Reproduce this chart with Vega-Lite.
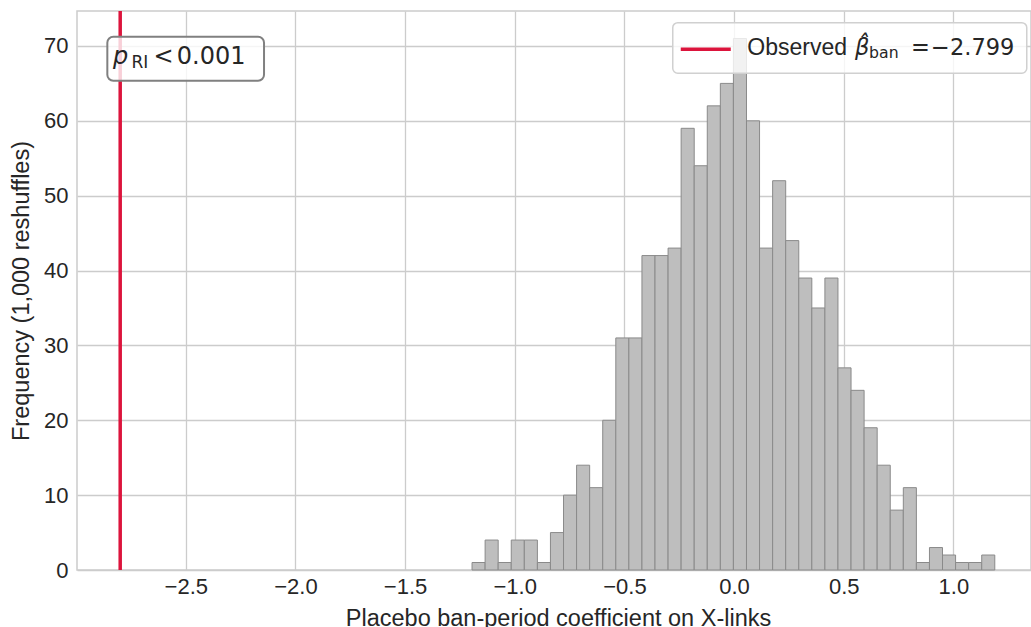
{
  "$schema": "https://vega.github.io/schema/vega-lite/v6.json",
  "autosize": {"type": "none"},
  "padding": {"left": 77, "top": 11, "right": 0, "bottom": 57},
  "width": 954,
  "height": 559,
  "background": "white",
  "config": {
    "view": {"stroke": "#cccccc", "strokeWidth": 1.5},
    "axis": {
      "domain": false,
      "ticks": false,
      "tickSize": 0,
      "grid": true,
      "gridColor": "#cccccc",
      "gridWidth": 1.3,
      "labelFont": "Liberation Sans",
      "labelFontSize": 22,
      "labelColor": "#262626",
      "titleFont": "Liberation Sans",
      "titleFontSize": 23.5,
      "titleFontWeight": "normal",
      "titleColor": "#262626"
    }
  },
  "layer": [
    {
      "data": {"values": [
        {"lo": -1.1947, "hi": -1.1351, "count": 1},
        {"lo": -1.1351, "hi": -1.0755, "count": 4},
        {"lo": -1.0755, "hi": -1.0159, "count": 1},
        {"lo": -1.0159, "hi": -0.9563, "count": 4},
        {"lo": -0.9563, "hi": -0.8967, "count": 4},
        {"lo": -0.8967, "hi": -0.8372, "count": 1},
        {"lo": -0.8372, "hi": -0.7776, "count": 5},
        {"lo": -0.7776, "hi": -0.7180, "count": 10},
        {"lo": -0.7180, "hi": -0.6584, "count": 14},
        {"lo": -0.6584, "hi": -0.5988, "count": 11},
        {"lo": -0.5988, "hi": -0.5392, "count": 20},
        {"lo": -0.5392, "hi": -0.4796, "count": 31},
        {"lo": -0.4796, "hi": -0.4200, "count": 31},
        {"lo": -0.4200, "hi": -0.3604, "count": 42},
        {"lo": -0.3604, "hi": -0.3008, "count": 42},
        {"lo": -0.3008, "hi": -0.2413, "count": 43},
        {"lo": -0.2413, "hi": -0.1817, "count": 59},
        {"lo": -0.1817, "hi": -0.1221, "count": 54},
        {"lo": -0.1221, "hi": -0.0625, "count": 62},
        {"lo": -0.0625, "hi": -0.0029, "count": 65},
        {"lo": -0.0029, "hi": 0.0567, "count": 71},
        {"lo": 0.0567, "hi": 0.1163, "count": 60},
        {"lo": 0.1163, "hi": 0.1759, "count": 43},
        {"lo": 0.1759, "hi": 0.2355, "count": 52},
        {"lo": 0.2355, "hi": 0.2951, "count": 44},
        {"lo": 0.2951, "hi": 0.3546, "count": 39},
        {"lo": 0.3546, "hi": 0.4142, "count": 35},
        {"lo": 0.4142, "hi": 0.4738, "count": 39},
        {"lo": 0.4738, "hi": 0.5334, "count": 27},
        {"lo": 0.5334, "hi": 0.5930, "count": 24},
        {"lo": 0.5930, "hi": 0.6526, "count": 19},
        {"lo": 0.6526, "hi": 0.7122, "count": 14},
        {"lo": 0.7122, "hi": 0.7718, "count": 8},
        {"lo": 0.7718, "hi": 0.8314, "count": 11},
        {"lo": 0.8314, "hi": 0.8910, "count": 1},
        {"lo": 0.8910, "hi": 0.9505, "count": 3},
        {"lo": 0.9505, "hi": 1.0101, "count": 2},
        {"lo": 1.0101, "hi": 1.0697, "count": 1},
        {"lo": 1.0697, "hi": 1.1293, "count": 1},
        {"lo": 1.1293, "hi": 1.1889, "count": 2}
      ]},
      "mark": {"type": "rect", "fill": "#bebebe", "stroke": "#8a8a8a", "strokeWidth": 1},
      "encoding": {
        "x": {
          "field": "lo", "type": "quantitative",
          "scale": {"domain": [-2.996, 1.354], "nice": false, "zero": false},
          "axis": {
            "title": "Placebo ban-period coefficient on X-links",
            "values": [-2.5, -2.0, -1.5, -1.0, -0.5, 0.0, 0.5, 1.0],
            "format": ".1f",
            "labelPadding": 6,
            "titlePadding": 9,
            "titleX": 481
          }
        },
        "x2": {"field": "hi"},
        "y": {
          "field": "count", "type": "quantitative",
          "scale": {"domain": [0, 74.67], "nice": false, "zero": true},
          "axis": {
            "title": "Frequency (1,000 reshuffles)",
            "values": [0, 10, 20, 30, 40, 50, 60, 70],
            "labelPadding": 9,
            "titlePadding": 10
          }
        },
        "y2": {"datum": 0}
      }
    },
    {
      "data": {"values": [{"beta": -2.799}]},
      "mark": {"type": "rule", "color": "#dc143c", "strokeWidth": 3.5},
      "encoding": {"x": {"field": "beta", "type": "quantitative"}}
    },
    {
      "data": {"values": [{"x1": -2.8577, "x2": -2.1432, "y1": 71.24, "y2": 65.36}]},
      "mark": {"type": "rect", "fill": "white", "fillOpacity": 0.8, "stroke": "#808080", "strokeWidth": 2, "cornerRadius": 6},
      "encoding": {
        "x": {"field": "x1", "type": "quantitative"},
        "x2": {"field": "x2"},
        "y": {"field": "y1", "type": "quantitative"},
        "y2": {"field": "y2"}
      }
    },
    {
      "data": {"values": [{"x": -2.8318, "y": 67.59, "t": "p"}]},
      "mark": {"type": "text", "font": "DejaVu Sans", "fontStyle": "italic", "fontSize": 24, "align": "left", "baseline": "alphabetic", "color": "#262626"},
      "encoding": {"x": {"field": "x", "type": "quantitative"}, "y": {"field": "y", "type": "quantitative"}, "text": {"field": "t"}}
    },
    {
      "data": {"values": [{"x": -2.748, "y": 67.1, "t": "RI"}]},
      "mark": {"type": "text", "font": "DejaVu Sans", "fontSize": 17, "align": "left", "baseline": "alphabetic", "color": "#262626"},
      "encoding": {"x": {"field": "x", "type": "quantitative"}, "y": {"field": "y", "type": "quantitative"}, "text": {"field": "t"}}
    },
    {
      "data": {"values": [{"x": -2.601, "y": 67.59, "t": "<"}]},
      "mark": {"type": "text", "font": "DejaVu Sans", "fontSize": 24, "align": "center", "baseline": "alphabetic", "color": "#262626"},
      "encoding": {"x": {"field": "x", "type": "quantitative"}, "y": {"field": "y", "type": "quantitative"}, "text": {"field": "t"}}
    },
    {
      "data": {"values": [{"x": -2.5408, "y": 67.59, "t": "0.001"}]},
      "mark": {"type": "text", "font": "DejaVu Sans", "fontSize": 24, "align": "left", "baseline": "alphabetic", "color": "#262626"},
      "encoding": {"x": {"field": "x", "type": "quantitative"}, "y": {"field": "y", "type": "quantitative"}, "text": {"field": "t"}}
    },
    {
      "data": {"values": [{"x1": -0.2795, "x2": 1.3347, "y1": 73.11, "y2": 66.35}]},
      "mark": {"type": "rect", "fill": "white", "fillOpacity": 0.8, "stroke": "#d0d0d0", "strokeWidth": 1.5, "cornerRadius": 5},
      "encoding": {
        "x": {"field": "x1", "type": "quantitative"},
        "x2": {"field": "x2"},
        "y": {"field": "y1", "type": "quantitative"},
        "y2": {"field": "y2"}
      }
    },
    {
      "data": {"values": [{"x1": -0.243, "x2": -0.015, "y": 69.56}]},
      "mark": {"type": "rule", "color": "#dc143c", "strokeWidth": 3.5},
      "encoding": {
        "x": {"field": "x1", "type": "quantitative"},
        "x2": {"field": "x2"},
        "y": {"field": "y", "type": "quantitative"}
      }
    },
    {
      "data": {"values": [{"x": 0.0602, "y": 68.8, "t": "Observed"}]},
      "mark": {"type": "text", "font": "Liberation Sans", "fontSize": 23, "align": "left", "baseline": "alphabetic", "color": "#262626"},
      "encoding": {"x": {"field": "x", "type": "quantitative"}, "y": {"field": "y", "type": "quantitative"}, "text": {"field": "t"}}
    },
    {
      "data": {"values": [{"x": 0.5518, "y": 68.8, "t": "β̂"}]},
      "mark": {"type": "text", "font": "DejaVu Sans", "fontStyle": "italic", "fontSize": 22.5, "align": "left", "baseline": "alphabetic", "color": "#262626"},
      "encoding": {"x": {"field": "x", "type": "quantitative"}, "y": {"field": "y", "type": "quantitative"}, "text": {"field": "t"}}
    },
    {
      "data": {"values": [{"x": 0.6156, "y": 68.35, "t": "ban"}]},
      "mark": {"type": "text", "font": "DejaVu Sans", "fontSize": 15.7, "align": "left", "baseline": "alphabetic", "color": "#262626"},
      "encoding": {"x": {"field": "x", "type": "quantitative"}, "y": {"field": "y", "type": "quantitative"}, "text": {"field": "t"}}
    },
    {
      "data": {"values": [{"x": 0.8071, "y": 68.8, "t": "="}, {"x": 0.8983, "y": 68.8, "t": "−2.799"}]},
      "mark": {"type": "text", "font": "DejaVu Sans", "fontSize": 22.5, "align": "left", "baseline": "alphabetic", "color": "#262626"},
      "encoding": {"x": {"field": "x", "type": "quantitative"}, "y": {"field": "y", "type": "quantitative"}, "text": {"field": "t"}}
    }
  ]
}
